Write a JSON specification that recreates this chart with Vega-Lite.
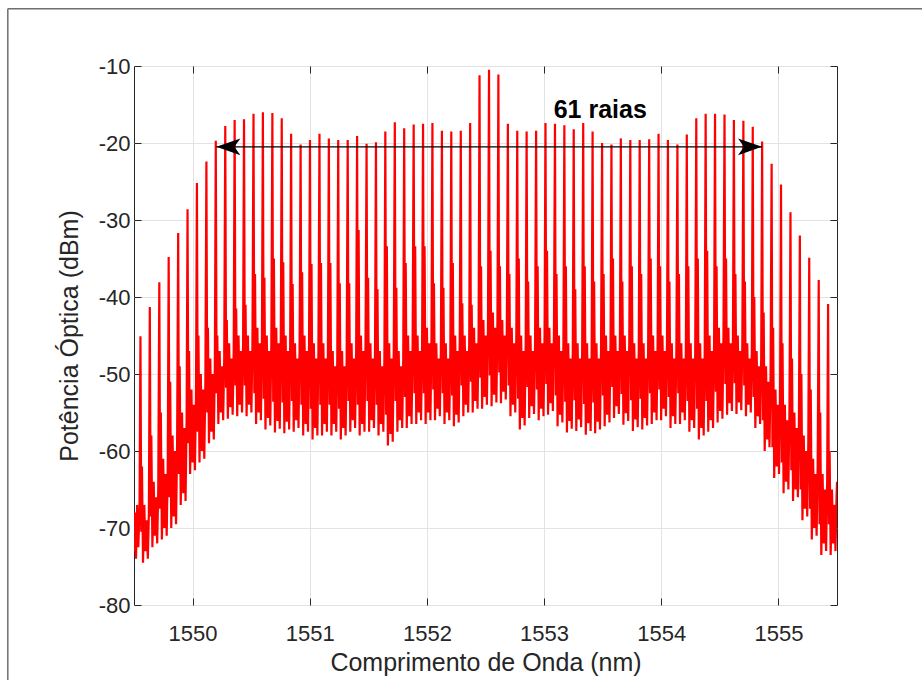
{
"$schema":"https://vega.github.io/schema/vega-lite/v6.json",
"width":703,"height":539,
"autosize":{"type":"none"},
"padding":{"left":134,"top":66,"right":85,"bottom":75},
"background":"white",
"config":{"view":{"stroke":"#262626","strokeWidth":1},"font":"Liberation Sans"},
"resolve":{"axis":{"x":"independent","y":"independent"}},
"datasets":{
"spec":[
{"wl":1549.500,"dBm":-73},{"wl":1549.508,"dBm":-68},{"wl":1549.517,"dBm":-74},{"wl":1549.527,"dBm":-67},{"wl":1549.537,"dBm":-72.5},{"wl":1549.547,"dBm":-67.5},
{"wl":1549.555,"dBm":-45.1},{"wl":1549.562,"dBm":-70.5},{"wl":1549.568,"dBm":-62},{"wl":1549.577,"dBm":-74.5},{"wl":1549.588,"dBm":-67},{"wl":1549.598,"dBm":-73},{"wl":1549.608,"dBm":-69},{"wl":1549.618,"dBm":-74},{"wl":1549.627,"dBm":-68},
{"wl":1549.635,"dBm":-41.3},{"wl":1549.642,"dBm":-68.5},{"wl":1549.648,"dBm":-58},{"wl":1549.657,"dBm":-72.5},{"wl":1549.668,"dBm":-64},{"wl":1549.678,"dBm":-71},{"wl":1549.688,"dBm":-66},{"wl":1549.698,"dBm":-72},{"wl":1549.707,"dBm":-65},
{"wl":1549.716,"dBm":-38.1},{"wl":1549.723,"dBm":-67.5},{"wl":1549.729,"dBm":-55},{"wl":1549.738,"dBm":-71.5},{"wl":1549.749,"dBm":-61},{"wl":1549.759,"dBm":-70},{"wl":1549.769,"dBm":-63},{"wl":1549.779,"dBm":-71},{"wl":1549.788,"dBm":-62},
{"wl":1549.796,"dBm":-34.8},{"wl":1549.803,"dBm":-66},{"wl":1549.809,"dBm":-51},{"wl":1549.818,"dBm":-70},{"wl":1549.829,"dBm":-58},{"wl":1549.839,"dBm":-68.5},{"wl":1549.849,"dBm":-60},{"wl":1549.859,"dBm":-69.5},{"wl":1549.868,"dBm":-59},
{"wl":1549.877,"dBm":-31.7},{"wl":1549.884,"dBm":-63},{"wl":1549.890,"dBm":-49},{"wl":1549.899,"dBm":-67},{"wl":1549.910,"dBm":-55},{"wl":1549.920,"dBm":-65.5},{"wl":1549.930,"dBm":-57},{"wl":1549.940,"dBm":-66.5},{"wl":1549.949,"dBm":-56},
{"wl":1549.957,"dBm":-28.6},{"wl":1549.964,"dBm":-59},{"wl":1549.970,"dBm":-47},{"wl":1549.979,"dBm":-63},{"wl":1549.990,"dBm":-52},{"wl":1550.000,"dBm":-61.5},{"wl":1550.010,"dBm":-54},{"wl":1550.020,"dBm":-62.5},{"wl":1550.029,"dBm":-53},
{"wl":1550.037,"dBm":-25.2},{"wl":1550.044,"dBm":-57.5},{"wl":1550.050,"dBm":-45},{"wl":1550.059,"dBm":-61.5},{"wl":1550.070,"dBm":-50},{"wl":1550.080,"dBm":-60},{"wl":1550.090,"dBm":-52},{"wl":1550.100,"dBm":-61},{"wl":1550.109,"dBm":-51},
{"wl":1550.118,"dBm":-22.4},{"wl":1550.125,"dBm":-55},{"wl":1550.131,"dBm":-44},{"wl":1550.140,"dBm":-59},{"wl":1550.151,"dBm":-48},{"wl":1550.161,"dBm":-57.5},{"wl":1550.171,"dBm":-50},{"wl":1550.181,"dBm":-58.5},{"wl":1550.190,"dBm":-49},
{"wl":1550.198,"dBm":-19.7},{"wl":1550.205,"dBm":-52.5},{"wl":1550.211,"dBm":-45},{"wl":1550.220,"dBm":-56.5},{"wl":1550.231,"dBm":-47},{"wl":1550.241,"dBm":-55},{"wl":1550.251,"dBm":-49},{"wl":1550.261,"dBm":-56},{"wl":1550.270,"dBm":-48},
{"wl":1550.279,"dBm":-17.8},{"wl":1550.286,"dBm":-51.8},{"wl":1550.292,"dBm":-43},{"wl":1550.301,"dBm":-55.8},{"wl":1550.312,"dBm":-46},{"wl":1550.322,"dBm":-54.3},{"wl":1550.332,"dBm":-48},{"wl":1550.342,"dBm":-55.3},{"wl":1550.351,"dBm":-47},
{"wl":1550.359,"dBm":-17.0},{"wl":1550.366,"dBm":-51.5},{"wl":1550.372,"dBm":-41.5},{"wl":1550.381,"dBm":-55.5},{"wl":1550.392,"dBm":-45},{"wl":1550.402,"dBm":-54},{"wl":1550.412,"dBm":-47},{"wl":1550.422,"dBm":-55},{"wl":1550.431,"dBm":-46},
{"wl":1550.439,"dBm":-16.9},{"wl":1550.446,"dBm":-51.5},{"wl":1550.452,"dBm":-41},{"wl":1550.461,"dBm":-55.5},{"wl":1550.472,"dBm":-45},{"wl":1550.482,"dBm":-54},{"wl":1550.492,"dBm":-47},{"wl":1550.502,"dBm":-55},{"wl":1550.511,"dBm":-46},
{"wl":1550.520,"dBm":-16.2},{"wl":1550.527,"dBm":-52.5},{"wl":1550.533,"dBm":-37},{"wl":1550.542,"dBm":-56.5},{"wl":1550.553,"dBm":-44},{"wl":1550.563,"dBm":-55},{"wl":1550.573,"dBm":-46},{"wl":1550.583,"dBm":-56},{"wl":1550.592,"dBm":-45},
{"wl":1550.600,"dBm":-16.0},{"wl":1550.607,"dBm":-53.2},{"wl":1550.613,"dBm":-37.5},{"wl":1550.622,"dBm":-57.2},{"wl":1550.633,"dBm":-45},{"wl":1550.643,"dBm":-55.7},{"wl":1550.653,"dBm":-47},{"wl":1550.663,"dBm":-56.7},{"wl":1550.672,"dBm":-46},
{"wl":1550.681,"dBm":-16.1},{"wl":1550.688,"dBm":-53.6},{"wl":1550.694,"dBm":-35},{"wl":1550.703,"dBm":-57.6},{"wl":1550.714,"dBm":-44},{"wl":1550.724,"dBm":-56.1},{"wl":1550.734,"dBm":-46},{"wl":1550.744,"dBm":-57.1},{"wl":1550.753,"dBm":-45},
{"wl":1550.761,"dBm":-16.8},{"wl":1550.768,"dBm":-53.7},{"wl":1550.774,"dBm":-35.5},{"wl":1550.783,"dBm":-57.7},{"wl":1550.794,"dBm":-45},{"wl":1550.804,"dBm":-56.2},{"wl":1550.814,"dBm":-47},{"wl":1550.824,"dBm":-57.2},{"wl":1550.833,"dBm":-46},
{"wl":1550.841,"dBm":-18.8},{"wl":1550.848,"dBm":-53.5},{"wl":1550.854,"dBm":-38.3},{"wl":1550.863,"dBm":-57.5},{"wl":1550.874,"dBm":-46},{"wl":1550.884,"dBm":-56},{"wl":1550.894,"dBm":-48},{"wl":1550.904,"dBm":-57},{"wl":1550.913,"dBm":-47},
{"wl":1550.922,"dBm":-20.2},{"wl":1550.929,"dBm":-54},{"wl":1550.935,"dBm":-36.8},{"wl":1550.944,"dBm":-58},{"wl":1550.955,"dBm":-45},{"wl":1550.965,"dBm":-56.5},{"wl":1550.975,"dBm":-47},{"wl":1550.985,"dBm":-57.5},{"wl":1550.994,"dBm":-46},
{"wl":1551.002,"dBm":-19.6},{"wl":1551.009,"dBm":-54.5},{"wl":1551.015,"dBm":-35.7},{"wl":1551.024,"dBm":-58.5},{"wl":1551.035,"dBm":-46},{"wl":1551.045,"dBm":-57},{"wl":1551.055,"dBm":-48},{"wl":1551.065,"dBm":-58},{"wl":1551.074,"dBm":-47},
{"wl":1551.083,"dBm":-18.8},{"wl":1551.090,"dBm":-54},{"wl":1551.096,"dBm":-35.6},{"wl":1551.105,"dBm":-58},{"wl":1551.116,"dBm":-46},{"wl":1551.126,"dBm":-56.5},{"wl":1551.136,"dBm":-48},{"wl":1551.146,"dBm":-57.5},{"wl":1551.155,"dBm":-47},
{"wl":1551.163,"dBm":-19.4},{"wl":1551.170,"dBm":-54},{"wl":1551.176,"dBm":-35.6},{"wl":1551.185,"dBm":-58},{"wl":1551.196,"dBm":-47},{"wl":1551.206,"dBm":-56.5},{"wl":1551.216,"dBm":-49},{"wl":1551.226,"dBm":-57.5},{"wl":1551.235,"dBm":-48},
{"wl":1551.243,"dBm":-19.6},{"wl":1551.250,"dBm":-54.5},{"wl":1551.256,"dBm":-38.2},{"wl":1551.265,"dBm":-58.5},{"wl":1551.276,"dBm":-47},{"wl":1551.286,"dBm":-57},{"wl":1551.296,"dBm":-49},{"wl":1551.306,"dBm":-58},{"wl":1551.315,"dBm":-48},
{"wl":1551.324,"dBm":-19.6},{"wl":1551.331,"dBm":-53.5},{"wl":1551.337,"dBm":-38.2},{"wl":1551.346,"dBm":-57.5},{"wl":1551.357,"dBm":-46},{"wl":1551.367,"dBm":-56},{"wl":1551.377,"dBm":-48},{"wl":1551.387,"dBm":-57},{"wl":1551.396,"dBm":-47},
{"wl":1551.404,"dBm":-19.1},{"wl":1551.411,"dBm":-54},{"wl":1551.417,"dBm":-31.3},{"wl":1551.426,"dBm":-58},{"wl":1551.437,"dBm":-45},{"wl":1551.447,"dBm":-56.5},{"wl":1551.457,"dBm":-47},{"wl":1551.467,"dBm":-57.5},{"wl":1551.476,"dBm":-46},
{"wl":1551.485,"dBm":-20.1},{"wl":1551.492,"dBm":-53.5},{"wl":1551.498,"dBm":-37.5},{"wl":1551.507,"dBm":-57.5},{"wl":1551.518,"dBm":-46},{"wl":1551.528,"dBm":-56},{"wl":1551.538,"dBm":-48},{"wl":1551.548,"dBm":-57},{"wl":1551.557,"dBm":-47},
{"wl":1551.565,"dBm":-19.9},{"wl":1551.572,"dBm":-54},{"wl":1551.578,"dBm":-39},{"wl":1551.587,"dBm":-58},{"wl":1551.598,"dBm":-47},{"wl":1551.608,"dBm":-56.5},{"wl":1551.618,"dBm":-49},{"wl":1551.628,"dBm":-57.5},{"wl":1551.637,"dBm":-48},
{"wl":1551.645,"dBm":-18.5},{"wl":1551.652,"dBm":-55.3},{"wl":1551.658,"dBm":-33.4},{"wl":1551.667,"dBm":-59.3},{"wl":1551.678,"dBm":-46},{"wl":1551.688,"dBm":-57.8},{"wl":1551.698,"dBm":-48},{"wl":1551.708,"dBm":-58.8},{"wl":1551.717,"dBm":-47},
{"wl":1551.726,"dBm":-17.3},{"wl":1551.733,"dBm":-53.5},{"wl":1551.739,"dBm":-38.8},{"wl":1551.748,"dBm":-57.5},{"wl":1551.759,"dBm":-47},{"wl":1551.769,"dBm":-56},{"wl":1551.779,"dBm":-49},{"wl":1551.789,"dBm":-57},{"wl":1551.798,"dBm":-48},
{"wl":1551.806,"dBm":-18.1},{"wl":1551.813,"dBm":-53},{"wl":1551.819,"dBm":-35.6},{"wl":1551.828,"dBm":-57},{"wl":1551.839,"dBm":-45},{"wl":1551.849,"dBm":-55.5},{"wl":1551.859,"dBm":-47},{"wl":1551.869,"dBm":-56.5},{"wl":1551.878,"dBm":-46},
{"wl":1551.887,"dBm":-17.6},{"wl":1551.894,"dBm":-52.5},{"wl":1551.900,"dBm":-33.4},{"wl":1551.909,"dBm":-56.5},{"wl":1551.920,"dBm":-45},{"wl":1551.930,"dBm":-55},{"wl":1551.940,"dBm":-47},{"wl":1551.950,"dBm":-56},{"wl":1551.959,"dBm":-46},
{"wl":1551.967,"dBm":-17.5},{"wl":1551.974,"dBm":-52.5},{"wl":1551.980,"dBm":-33.4},{"wl":1551.989,"dBm":-56.5},{"wl":1552.000,"dBm":-44},{"wl":1552.010,"dBm":-55},{"wl":1552.020,"dBm":-46},{"wl":1552.030,"dBm":-56},{"wl":1552.039,"dBm":-45},
{"wl":1552.047,"dBm":-17.4},{"wl":1552.054,"dBm":-52},{"wl":1552.060,"dBm":-38.2},{"wl":1552.069,"dBm":-56},{"wl":1552.080,"dBm":-46},{"wl":1552.090,"dBm":-54.5},{"wl":1552.100,"dBm":-48},{"wl":1552.110,"dBm":-55.5},{"wl":1552.119,"dBm":-47},
{"wl":1552.128,"dBm":-18.4},{"wl":1552.135,"dBm":-52.5},{"wl":1552.141,"dBm":-38.8},{"wl":1552.150,"dBm":-56.5},{"wl":1552.161,"dBm":-46},{"wl":1552.171,"dBm":-55},{"wl":1552.181,"dBm":-48},{"wl":1552.191,"dBm":-56},{"wl":1552.200,"dBm":-47},
{"wl":1552.208,"dBm":-18.5},{"wl":1552.215,"dBm":-52.8},{"wl":1552.221,"dBm":-35.6},{"wl":1552.230,"dBm":-56.8},{"wl":1552.241,"dBm":-45},{"wl":1552.251,"dBm":-55.3},{"wl":1552.261,"dBm":-47},{"wl":1552.271,"dBm":-56.3},{"wl":1552.280,"dBm":-46},
{"wl":1552.289,"dBm":-18.4},{"wl":1552.296,"dBm":-51.5},{"wl":1552.302,"dBm":-40.8},{"wl":1552.311,"dBm":-55.5},{"wl":1552.322,"dBm":-45},{"wl":1552.332,"dBm":-54},{"wl":1552.342,"dBm":-47},{"wl":1552.352,"dBm":-55},{"wl":1552.361,"dBm":-46},
{"wl":1552.369,"dBm":-17.4},{"wl":1552.376,"dBm":-51},{"wl":1552.382,"dBm":-41},{"wl":1552.391,"dBm":-55},{"wl":1552.402,"dBm":-44},{"wl":1552.412,"dBm":-53.5},{"wl":1552.422,"dBm":-46},{"wl":1552.432,"dBm":-54.5},{"wl":1552.441,"dBm":-45},
{"wl":1552.449,"dBm":-11.2},{"wl":1552.456,"dBm":-50.5},{"wl":1552.462,"dBm":-36},{"wl":1552.471,"dBm":-54.5},{"wl":1552.482,"dBm":-43},{"wl":1552.492,"dBm":-53},{"wl":1552.502,"dBm":-45},{"wl":1552.512,"dBm":-54},{"wl":1552.521,"dBm":-44},
{"wl":1552.530,"dBm":-10.5},{"wl":1552.537,"dBm":-50.2},{"wl":1552.543,"dBm":-34},{"wl":1552.552,"dBm":-54.2},{"wl":1552.563,"dBm":-42},{"wl":1552.573,"dBm":-52.7},{"wl":1552.583,"dBm":-44},{"wl":1552.593,"dBm":-53.7},{"wl":1552.602,"dBm":-43},
{"wl":1552.610,"dBm":-11.1},{"wl":1552.617,"dBm":-49.8},{"wl":1552.623,"dBm":-36},{"wl":1552.632,"dBm":-53.8},{"wl":1552.643,"dBm":-43},{"wl":1552.653,"dBm":-52.3},{"wl":1552.663,"dBm":-45},{"wl":1552.673,"dBm":-53.3},{"wl":1552.682,"dBm":-44},
{"wl":1552.691,"dBm":-17.5},{"wl":1552.698,"dBm":-51.5},{"wl":1552.704,"dBm":-37},{"wl":1552.713,"dBm":-55.5},{"wl":1552.724,"dBm":-44},{"wl":1552.734,"dBm":-54},{"wl":1552.744,"dBm":-46},{"wl":1552.754,"dBm":-55},{"wl":1552.763,"dBm":-45},
{"wl":1552.771,"dBm":-18.4},{"wl":1552.778,"dBm":-53.2},{"wl":1552.784,"dBm":-35},{"wl":1552.793,"dBm":-57.2},{"wl":1552.804,"dBm":-45},{"wl":1552.814,"dBm":-55.7},{"wl":1552.824,"dBm":-47},{"wl":1552.834,"dBm":-56.7},{"wl":1552.843,"dBm":-46},
{"wl":1552.851,"dBm":-18.5},{"wl":1552.858,"dBm":-51.7},{"wl":1552.864,"dBm":-38},{"wl":1552.873,"dBm":-55.7},{"wl":1552.884,"dBm":-45},{"wl":1552.894,"dBm":-54.2},{"wl":1552.904,"dBm":-47},{"wl":1552.914,"dBm":-55.2},{"wl":1552.923,"dBm":-46},
{"wl":1552.932,"dBm":-18.4},{"wl":1552.939,"dBm":-52},{"wl":1552.945,"dBm":-36},{"wl":1552.954,"dBm":-56},{"wl":1552.965,"dBm":-44},{"wl":1552.975,"dBm":-54.5},{"wl":1552.985,"dBm":-46},{"wl":1552.995,"dBm":-55.5},{"wl":1553.004,"dBm":-45},
{"wl":1553.012,"dBm":-17.4},{"wl":1553.019,"dBm":-51.3},{"wl":1553.025,"dBm":-34},{"wl":1553.034,"dBm":-55.3},{"wl":1553.045,"dBm":-44},{"wl":1553.055,"dBm":-53.8},{"wl":1553.065,"dBm":-46},{"wl":1553.075,"dBm":-54.8},{"wl":1553.084,"dBm":-45},
{"wl":1553.093,"dBm":-17.5},{"wl":1553.100,"dBm":-52.8},{"wl":1553.106,"dBm":-37},{"wl":1553.115,"dBm":-56.8},{"wl":1553.126,"dBm":-45},{"wl":1553.136,"dBm":-55.3},{"wl":1553.146,"dBm":-47},{"wl":1553.156,"dBm":-56.3},{"wl":1553.165,"dBm":-46},
{"wl":1553.173,"dBm":-17.7},{"wl":1553.180,"dBm":-53.6},{"wl":1553.186,"dBm":-36},{"wl":1553.195,"dBm":-57.6},{"wl":1553.206,"dBm":-46},{"wl":1553.216,"dBm":-56.1},{"wl":1553.226,"dBm":-48},{"wl":1553.236,"dBm":-57.1},{"wl":1553.245,"dBm":-47},
{"wl":1553.253,"dBm":-18.2},{"wl":1553.260,"dBm":-53.4},{"wl":1553.266,"dBm":-39},{"wl":1553.275,"dBm":-57.4},{"wl":1553.286,"dBm":-46},{"wl":1553.296,"dBm":-55.9},{"wl":1553.306,"dBm":-48},{"wl":1553.316,"dBm":-56.9},{"wl":1553.325,"dBm":-47},
{"wl":1553.334,"dBm":-17.4},{"wl":1553.341,"dBm":-53.9},{"wl":1553.347,"dBm":-36},{"wl":1553.356,"dBm":-57.9},{"wl":1553.367,"dBm":-46},{"wl":1553.377,"dBm":-56.4},{"wl":1553.387,"dBm":-48},{"wl":1553.397,"dBm":-57.4},{"wl":1553.406,"dBm":-47},
{"wl":1553.414,"dBm":-18.5},{"wl":1553.421,"dBm":-53.7},{"wl":1553.427,"dBm":-38},{"wl":1553.436,"dBm":-57.7},{"wl":1553.447,"dBm":-46},{"wl":1553.457,"dBm":-56.2},{"wl":1553.467,"dBm":-48},{"wl":1553.477,"dBm":-57.2},{"wl":1553.486,"dBm":-47},
{"wl":1553.495,"dBm":-20.0},{"wl":1553.502,"dBm":-52.8},{"wl":1553.508,"dBm":-37},{"wl":1553.517,"dBm":-56.8},{"wl":1553.528,"dBm":-45},{"wl":1553.538,"dBm":-55.3},{"wl":1553.548,"dBm":-47},{"wl":1553.558,"dBm":-56.3},{"wl":1553.567,"dBm":-46},
{"wl":1553.575,"dBm":-20.2},{"wl":1553.582,"dBm":-51.7},{"wl":1553.588,"dBm":-35},{"wl":1553.597,"dBm":-55.7},{"wl":1553.608,"dBm":-45},{"wl":1553.618,"dBm":-54.2},{"wl":1553.628,"dBm":-47},{"wl":1553.638,"dBm":-55.2},{"wl":1553.647,"dBm":-46},
{"wl":1553.655,"dBm":-19.4},{"wl":1553.662,"dBm":-52.6},{"wl":1553.668,"dBm":-38},{"wl":1553.677,"dBm":-56.6},{"wl":1553.688,"dBm":-45},{"wl":1553.698,"dBm":-55.1},{"wl":1553.708,"dBm":-47},{"wl":1553.718,"dBm":-56.1},{"wl":1553.727,"dBm":-46},
{"wl":1553.736,"dBm":-19.6},{"wl":1553.743,"dBm":-53.4},{"wl":1553.749,"dBm":-36},{"wl":1553.758,"dBm":-57.4},{"wl":1553.769,"dBm":-46},{"wl":1553.779,"dBm":-55.9},{"wl":1553.789,"dBm":-48},{"wl":1553.799,"dBm":-56.9},{"wl":1553.808,"dBm":-47},
{"wl":1553.816,"dBm":-19.6},{"wl":1553.823,"dBm":-53.2},{"wl":1553.829,"dBm":-37},{"wl":1553.838,"dBm":-57.2},{"wl":1553.849,"dBm":-46},{"wl":1553.859,"dBm":-55.7},{"wl":1553.869,"dBm":-48},{"wl":1553.879,"dBm":-56.7},{"wl":1553.888,"dBm":-47},
{"wl":1553.897,"dBm":-19.5},{"wl":1553.904,"dBm":-52.5},{"wl":1553.910,"dBm":-35},{"wl":1553.919,"dBm":-56.5},{"wl":1553.930,"dBm":-45},{"wl":1553.940,"dBm":-55},{"wl":1553.950,"dBm":-47},{"wl":1553.960,"dBm":-56},{"wl":1553.969,"dBm":-46},
{"wl":1553.977,"dBm":-18.8},{"wl":1553.984,"dBm":-52},{"wl":1553.990,"dBm":-36},{"wl":1553.999,"dBm":-56},{"wl":1554.010,"dBm":-45},{"wl":1554.020,"dBm":-54.5},{"wl":1554.030,"dBm":-47},{"wl":1554.040,"dBm":-55.5},{"wl":1554.049,"dBm":-46},
{"wl":1554.057,"dBm":-19.6},{"wl":1554.064,"dBm":-53},{"wl":1554.070,"dBm":-38},{"wl":1554.079,"dBm":-57},{"wl":1554.090,"dBm":-46},{"wl":1554.100,"dBm":-55.5},{"wl":1554.110,"dBm":-48},{"wl":1554.120,"dBm":-56.5},{"wl":1554.129,"dBm":-47},
{"wl":1554.138,"dBm":-20.2},{"wl":1554.145,"dBm":-52.5},{"wl":1554.151,"dBm":-37},{"wl":1554.160,"dBm":-56.5},{"wl":1554.171,"dBm":-46},{"wl":1554.181,"dBm":-55},{"wl":1554.191,"dBm":-48},{"wl":1554.201,"dBm":-56},{"wl":1554.210,"dBm":-47},
{"wl":1554.218,"dBm":-18.9},{"wl":1554.225,"dBm":-53.5},{"wl":1554.231,"dBm":-36},{"wl":1554.240,"dBm":-57.5},{"wl":1554.251,"dBm":-46},{"wl":1554.261,"dBm":-56},{"wl":1554.271,"dBm":-48},{"wl":1554.281,"dBm":-57},{"wl":1554.290,"dBm":-47},
{"wl":1554.299,"dBm":-16.8},{"wl":1554.306,"dBm":-54.5},{"wl":1554.312,"dBm":-35},{"wl":1554.321,"dBm":-58.5},{"wl":1554.332,"dBm":-46},{"wl":1554.342,"dBm":-57},{"wl":1554.352,"dBm":-48},{"wl":1554.362,"dBm":-58},{"wl":1554.371,"dBm":-47},
{"wl":1554.379,"dBm":-16.2},{"wl":1554.386,"dBm":-53.5},{"wl":1554.392,"dBm":-34},{"wl":1554.401,"dBm":-57.5},{"wl":1554.412,"dBm":-45},{"wl":1554.422,"dBm":-56},{"wl":1554.432,"dBm":-47},{"wl":1554.442,"dBm":-57},{"wl":1554.451,"dBm":-46},
{"wl":1554.459,"dBm":-16.2},{"wl":1554.466,"dBm":-52.3},{"wl":1554.472,"dBm":-36},{"wl":1554.481,"dBm":-56.3},{"wl":1554.492,"dBm":-44},{"wl":1554.502,"dBm":-54.8},{"wl":1554.512,"dBm":-46},{"wl":1554.522,"dBm":-55.8},{"wl":1554.531,"dBm":-45},
{"wl":1554.540,"dBm":-16.3},{"wl":1554.547,"dBm":-51.3},{"wl":1554.553,"dBm":-35},{"wl":1554.562,"dBm":-55.3},{"wl":1554.573,"dBm":-44},{"wl":1554.583,"dBm":-53.8},{"wl":1554.593,"dBm":-46},{"wl":1554.603,"dBm":-54.8},{"wl":1554.612,"dBm":-45},
{"wl":1554.620,"dBm":-17.0},{"wl":1554.627,"dBm":-51.2},{"wl":1554.633,"dBm":-37},{"wl":1554.642,"dBm":-55.2},{"wl":1554.653,"dBm":-45},{"wl":1554.663,"dBm":-53.7},{"wl":1554.673,"dBm":-47},{"wl":1554.683,"dBm":-54.7},{"wl":1554.692,"dBm":-46},
{"wl":1554.701,"dBm":-17.1},{"wl":1554.708,"dBm":-51.5},{"wl":1554.714,"dBm":-38},{"wl":1554.723,"dBm":-55.5},{"wl":1554.734,"dBm":-46},{"wl":1554.744,"dBm":-54},{"wl":1554.754,"dBm":-48},{"wl":1554.764,"dBm":-55},{"wl":1554.773,"dBm":-47},
{"wl":1554.781,"dBm":-17.9},{"wl":1554.788,"dBm":-53},{"wl":1554.794,"dBm":-40},{"wl":1554.803,"dBm":-57},{"wl":1554.814,"dBm":-47},{"wl":1554.824,"dBm":-55.5},{"wl":1554.834,"dBm":-49},{"wl":1554.844,"dBm":-56.5},{"wl":1554.853,"dBm":-48},
{"wl":1554.861,"dBm":-19.8},{"wl":1554.868,"dBm":-56},{"wl":1554.874,"dBm":-42},{"wl":1554.883,"dBm":-60},{"wl":1554.894,"dBm":-49},{"wl":1554.904,"dBm":-58.5},{"wl":1554.914,"dBm":-51},{"wl":1554.924,"dBm":-59.5},{"wl":1554.933,"dBm":-50},
{"wl":1554.942,"dBm":-22.7},{"wl":1554.949,"dBm":-59.5},{"wl":1554.955,"dBm":-44},{"wl":1554.964,"dBm":-63.5},{"wl":1554.975,"dBm":-52},{"wl":1554.985,"dBm":-62},{"wl":1554.995,"dBm":-54},{"wl":1555.005,"dBm":-63},{"wl":1555.014,"dBm":-53},
{"wl":1555.022,"dBm":-25.4},{"wl":1555.029,"dBm":-61.5},{"wl":1555.035,"dBm":-46},{"wl":1555.044,"dBm":-65.5},{"wl":1555.055,"dBm":-54},{"wl":1555.065,"dBm":-64},{"wl":1555.075,"dBm":-56},{"wl":1555.085,"dBm":-65},{"wl":1555.094,"dBm":-55},
{"wl":1555.103,"dBm":-29.0},{"wl":1555.110,"dBm":-62.5},{"wl":1555.116,"dBm":-48},{"wl":1555.125,"dBm":-66.5},{"wl":1555.136,"dBm":-55},{"wl":1555.146,"dBm":-65},{"wl":1555.156,"dBm":-57},{"wl":1555.166,"dBm":-66},{"wl":1555.175,"dBm":-56},
{"wl":1555.183,"dBm":-32.0},{"wl":1555.190,"dBm":-65},{"wl":1555.196,"dBm":-50},{"wl":1555.205,"dBm":-69},{"wl":1555.216,"dBm":-58},{"wl":1555.226,"dBm":-67.5},{"wl":1555.236,"dBm":-60},{"wl":1555.246,"dBm":-68.5},{"wl":1555.255,"dBm":-59},
{"wl":1555.263,"dBm":-34.9},{"wl":1555.270,"dBm":-67.5},{"wl":1555.276,"dBm":-52},{"wl":1555.285,"dBm":-71.5},{"wl":1555.296,"dBm":-61},{"wl":1555.306,"dBm":-70},{"wl":1555.316,"dBm":-63},{"wl":1555.326,"dBm":-71},{"wl":1555.335,"dBm":-62},
{"wl":1555.344,"dBm":-37.8},{"wl":1555.351,"dBm":-69.5},{"wl":1555.357,"dBm":-55},{"wl":1555.366,"dBm":-73.5},{"wl":1555.377,"dBm":-63},{"wl":1555.387,"dBm":-72},{"wl":1555.397,"dBm":-65},{"wl":1555.407,"dBm":-73},{"wl":1555.416,"dBm":-64},
{"wl":1555.424,"dBm":-40.9},{"wl":1555.431,"dBm":-69.5},{"wl":1555.437,"dBm":-60},{"wl":1555.446,"dBm":-73.5},{"wl":1555.457,"dBm":-65},{"wl":1555.467,"dBm":-72},{"wl":1555.477,"dBm":-67},{"wl":1555.487,"dBm":-73},{"wl":1555.496,"dBm":-66},
{"wl":1555.500,"dBm":-64}
],
"arrow":[{"from":1550.203,"to":1554.860,"level":-20.5}],
"headL":[{"wl":1550.203,"level":-20.5}],
"headR":[{"wl":1554.860,"level":-20.5}],
"label":[{"wl":1553.479,"level":-15.7,"text":"61 raias"}],
"frame":[{"a":1548.423,"b":1548.423,"c":-2.56,"d":-110},{"a":1548.423,"b":1560,"c":-2.56,"d":-2.56}]
},
"layer":[
{
"data":{"name":"spec"},
"mark":{"type":"line","color":"#ff0000","strokeWidth":2.2,"clip":true},
"encoding":{
"x":{"field":"wl","type":"quantitative","scale":{"domain":[1549.5,1555.5],"nice":false,"zero":false},
"axis":{"orient":"bottom","values":[1550,1551,1552,1553,1554,1555],"format":"d","title":"Comprimento de Onda (nm)","grid":true,"gridColor":"#e3e3e3","gridWidth":1,"domain":false,"ticks":true,"tickSize":-7,"tickColor":"#262626","tickWidth":1,"labelFontSize":22,"labelColor":"#262626","labelFont":"Liberation Sans","labelPadding":25,"titleFontSize":25,"titleFontWeight":"normal","titleColor":"#262626","titleFont":"Liberation Sans","titlePadding":6}},
"y":{"field":"dBm","type":"quantitative","scale":{"domain":[-80,-10],"nice":false,"zero":false},
"axis":{"orient":"left","values":[-80,-70,-60,-50,-40,-30,-20,-10],"labelExpr":"'' + datum.value","title":"Potência Óptica (dBm)","grid":true,"gridColor":"#e3e3e3","gridWidth":1,"domain":false,"ticks":true,"tickSize":-7,"tickColor":"#262626","tickWidth":1,"labelFontSize":22,"labelColor":"#262626","labelFont":"Liberation Sans","labelPadding":11,"titleFontSize":25,"titleFontWeight":"normal","titleColor":"#262626","titleFont":"Liberation Sans","titlePadding":16}}
}
},
{
"data":{"name":"arrow"},
"mark":{"type":"rule","color":"#000000","strokeWidth":1.2},
"encoding":{
"x":{"field":"from","type":"quantitative","scale":{"domain":[1549.5,1555.5],"nice":false,"zero":false},
"axis":{"orient":"top","values":[1550,1551,1552,1553,1554,1555],"labels":false,"title":null,"grid":false,"domain":false,"ticks":true,"tickSize":-7,"tickColor":"#262626","tickWidth":1}},
"x2":{"field":"to"},
"y":{"field":"level","type":"quantitative","scale":{"domain":[-80,-10],"nice":false,"zero":false},
"axis":{"orient":"right","values":[-80,-70,-60,-50,-40,-30,-20,-10],"labels":false,"title":null,"grid":false,"domain":false,"ticks":true,"tickSize":-7,"tickColor":"#262626","tickWidth":1}}
}
},
{
"data":{"name":"headL"},
"mark":{"type":"point","shape":"M0,0L2,-0.7L1.5,0L2,0.7Z","filled":true,"size":576,"color":"#000000","opacity":1},
"encoding":{
"x":{"field":"wl","type":"quantitative","scale":{"domain":[1549.5,1555.5],"nice":false,"zero":false},"axis":null},
"y":{"field":"level","type":"quantitative","scale":{"domain":[-80,-10],"nice":false,"zero":false},"axis":null}
}
},
{
"data":{"name":"headR"},
"mark":{"type":"point","shape":"M0,0L-2,-0.7L-1.5,0L-2,0.7Z","filled":true,"size":576,"color":"#000000","opacity":1},
"encoding":{
"x":{"field":"wl","type":"quantitative","scale":{"domain":[1549.5,1555.5],"nice":false,"zero":false},"axis":null},
"y":{"field":"level","type":"quantitative","scale":{"domain":[-80,-10],"nice":false,"zero":false},"axis":null}
}
},
{
"data":{"name":"label"},
"mark":{"type":"text","font":"Liberation Sans","fontSize":25,"fontWeight":"bold","color":"#000000","align":"center","baseline":"middle"},
"encoding":{
"x":{"field":"wl","type":"quantitative","scale":{"domain":[1549.5,1555.5],"nice":false,"zero":false},"axis":null},
"y":{"field":"level","type":"quantitative","scale":{"domain":[-80,-10],"nice":false,"zero":false},"axis":null},
"text":{"field":"text"}
}
},
{
"data":{"name":"frame"},
"mark":{"type":"rule","color":"#6e6e6e","strokeWidth":1.5,"clip":false},
"encoding":{
"x":{"field":"a","type":"quantitative","scale":{"domain":[1549.5,1555.5],"nice":false,"zero":false},"axis":null},
"x2":{"field":"b"},
"y":{"field":"c","type":"quantitative","scale":{"domain":[-80,-10],"nice":false,"zero":false},"axis":null},
"y2":{"field":"d"}
}
}
]
}
